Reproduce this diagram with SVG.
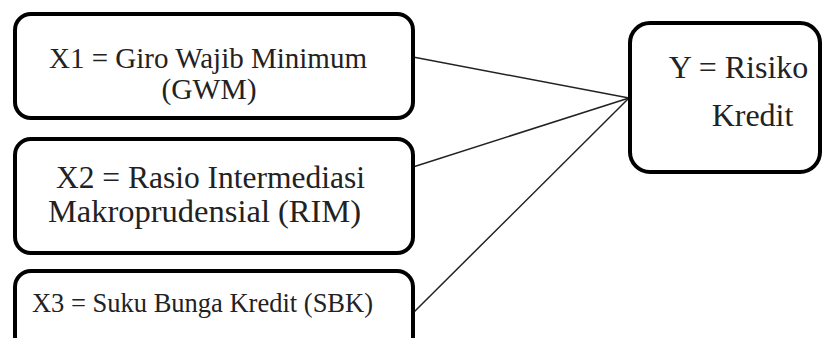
<svg xmlns="http://www.w3.org/2000/svg" width="823" height="338" viewBox="0 0 823 338">
<defs>
<style>
.box{fill:#fff;stroke:#000;stroke-width:4}
.c{stroke:#222;stroke-width:1.5;fill:none}
</style>
</defs>
<rect width="823" height="338" fill="#fff"/>
<g id="connectors">
<line class="c" x1="413" y1="57" x2="629" y2="98"/>
<line class="c" x1="413" y1="167" x2="629" y2="98"/>
<line class="c" x1="413" y1="313" x2="629" y2="98"/>
</g>
<g id="x1">
<rect class="box" x="15" y="14" width="398" height="104" rx="16"/>
<text x="208" y="68" font-size="29" font-family="Liberation Serif, serif" fill="#222" text-anchor="middle">X1 = Giro Wajib Minimum</text>
<text x="209" y="99" font-size="29.5" font-family="Liberation Serif, serif" fill="#222" text-anchor="middle">(GWM)</text>
</g>
<g id="x2">
<rect class="box" x="15" y="139" width="398" height="114" rx="16"/>
<text x="210.5" y="188" font-size="31.5" font-family="Liberation Serif, serif" fill="#222" text-anchor="middle">X2 = Rasio Intermediasi</text>
<text x="204.5" y="222" font-size="32.5" font-family="Liberation Serif, serif" fill="#222" text-anchor="middle">Makroprudensial (RIM)</text>
</g>
<g id="x3">
<rect class="box" x="15" y="271" width="398" height="90" rx="16"/>
<text x="202.5" y="312" font-size="26.5" font-family="Liberation Serif, serif" fill="#222" text-anchor="middle">X3 = Suku Bunga Kredit (SBK)</text>
</g>
<g id="y">
<rect class="box" x="630" y="23" width="190" height="149" rx="20"/>
<text x="738.5" y="78" font-size="32" font-family="Liberation Serif, serif" fill="#222" text-anchor="middle">Y = Risiko</text>
<text x="752.5" y="126" font-size="32" font-family="Liberation Serif, serif" fill="#222" text-anchor="middle">Kredit</text>
</g>
</svg>
